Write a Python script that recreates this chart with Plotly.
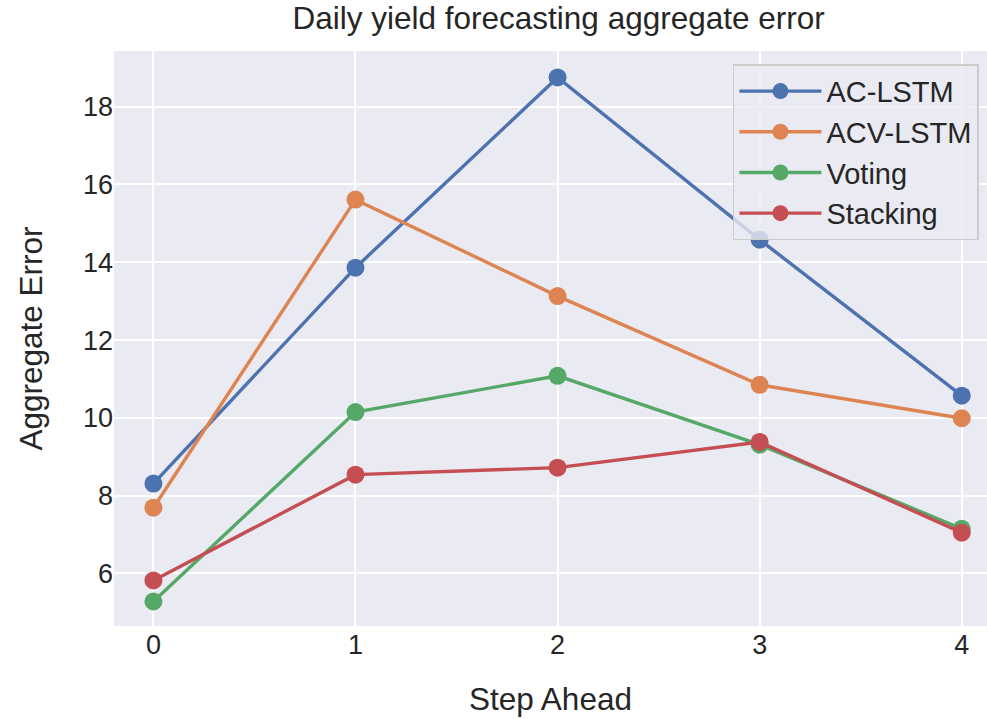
import plotly.graph_objects as go

steps = [0, 1, 2, 3, 4]
ac_lstm = [8.31, 13.86, 18.75, 14.58, 10.57]
acv_lstm = [7.69, 15.61, 13.13, 10.85, 9.99]
voting = [5.28, 10.15, 11.08, 9.31, 7.15]
stacking = [5.82, 8.54, 8.72, 9.38, 7.05]

series = [
    ("AC-LSTM", ac_lstm, "#4C72B0"),
    ("ACV-LSTM", acv_lstm, "#DD8452"),
    ("Voting", voting, "#55A868"),
    ("Stacking", stacking, "#C44E52"),
]

fig = go.Figure()
for name, vals, col in series:
    fig.add_trace(go.Scatter(
        x=steps, y=vals, name=name, mode="lines+markers",
        line=dict(color=col, width=3.4),
        marker=dict(color=col, size=18),
    ))

font = "Liberation Sans, Arial, sans-serif"
fig.update_layout(
    width=987, height=719,
    margin=dict(l=114, r=0, t=51, b=93),
    paper_bgcolor="white",
    plot_bgcolor="#EAEAF2",
    font=dict(family=font, size=27, color="#262626"),
    title=dict(text="Daily yield forecasting aggregate error", x=0.566, xanchor="center",
               y=0.99, yanchor="top", font=dict(size=31.5, color="#262626")),
    showlegend=True,
    legend=dict(x=0.709, y=0.977, xanchor="left", yanchor="top",
                bgcolor="rgba(234,234,242,0.8)", bordercolor="#CCCCCC", borderwidth=1.5,
                font=dict(size=29, color="#262626"), itemwidth=82, tracegroupgap=0),
    xaxis=dict(range=[-0.195, 4.125], tickvals=steps, ticktext=[str(s) for s in steps],
               showgrid=True, gridcolor="white", gridwidth=2, zeroline=False,
               showline=False, ticks="", tickfont=dict(size=27), ticklabelstandoff=0,
               title=dict(text="Step Ahead", font=dict(size=31.5), standoff=28)),
    yaxis=dict(range=[4.65, 19.43], tickvals=[6, 8, 10, 12, 14, 16, 18],
               showgrid=True, gridcolor="white", gridwidth=2, zeroline=False,
               showline=False, ticks="", tickfont=dict(size=27),
               title=dict(text="Aggregate Error", font=dict(size=31.5), standoff=30)),
)

fig.write_html("out.html")
